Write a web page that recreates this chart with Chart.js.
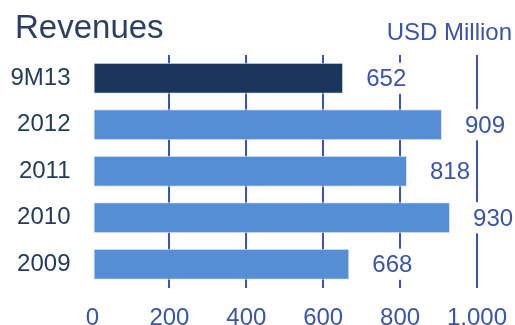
<!DOCTYPE html>
<html>
<head>
<meta charset="utf-8">
<script src="https://cdn.jsdelivr.net/npm/chart.js@4.4.1/dist/chart.umd.min.js"></script>
<style>
  body { margin: 0; background: #fff; }
  #wrap { width: 515px; height: 325px; }
</style>
</head>
<body>
<div id="wrap"><canvas id="chart" width="515" height="325"></canvas></div>
<script>
const periods = ['9M13', '2012', '2011', '2010', '2009'];
const revenues = [652, 909, 818, 930, 668];
const xTicks = [0, 200, 400, 600, 800, 1000];

const darkBar = '#1b365d';
const lightBar = '#558ed5';
const blueText = '#3a54a6';
const navyText = '#253b5c';
const fontFamily = '"Liberation Sans", Arial, sans-serif';

// headline + unit in the top band
const headerPlugin = {
  id: 'header',
  afterDraw(chart) {
    const ctx = chart.ctx;
    ctx.save();
    ctx.textBaseline = 'alphabetic';
    ctx.fillStyle = '#2b3f5e';
    ctx.font = '33px ' + fontFamily;
    ctx.textAlign = 'left';
    ctx.fillText('Revenues', 15, 37.5);
    ctx.fillStyle = blueText;
    ctx.font = '24px ' + fontFamily;
    ctx.textAlign = 'right';
    ctx.fillText('USD Million', 512, 40);
    ctx.restore();
  },
};

// value labels sit on a white box that cuts through the gridlines
const valueLabels = {
  id: 'valueLabels',
  afterDatasetsDraw(chart) {
    const ctx = chart.ctx;
    const meta = chart.getDatasetMeta(0);
    ctx.save();
    ctx.font = '24px ' + fontFamily;
    ctx.textAlign = 'left';
    ctx.textBaseline = 'middle';
    meta.data.forEach((bar, i) => {
      const text = String(revenues[i]);
      const w = ctx.measureText(text).width;
      const x = bar.x + 23;
      const h = bar.height;
      ctx.fillStyle = '#fff';
      ctx.fillRect(x - 2, bar.y - h / 2, w + 4, h);
      ctx.fillStyle = blueText;
      ctx.fillText(text, x, bar.y + 1.5);
    });
    ctx.restore();
  },
};

const ctx = document.querySelector('#chart').getContext('2d');

const revenueChart = new Chart(ctx, {
  type: 'bar',
  data: {
    labels: periods,
    datasets: [
      {
        data: revenues,
        backgroundColor: periods.map((p, i) => (i === 0 ? darkBar : lightBar)),
        borderColor: '#dfe6f4',
        borderWidth: 1,
        borderSkipped: false,
        barPercentage: 0.67,
        categoryPercentage: 1,
      },
    ],
  },
  options: {
    indexAxis: 'y',
    responsive: false,
    animation: false,
    layout: {
      padding: { top: 55, right: 38, left: 0, bottom: 0 },
    },
    plugins: {
      legend: { display: false },
      tooltip: { enabled: false },
    },
    scales: {
      x: {
        min: 0,
        max: 1000,
        afterBuildTicks: (scale) => {
          scale.ticks = xTicks.map((v) => ({ value: v }));
        },
        // fixed plot frame: no extra room for the end labels
        afterFit: (scale) => {
          scale.height = 37.5;
          scale.paddingLeft = 0;
          scale.paddingRight = 0;
        },
        border: { display: false },
        grid: {
          drawTicks: false,
          lineWidth: 2,
          color: (c) => (c.tick && c.tick.value === 0 ? 'rgba(0,0,0,0)' : '#3a56ae'),
        },
        ticks: {
          padding: 16,
          maxRotation: 0,
          color: blueText,
          font: { family: fontFamily, size: 24 },
          callback: (v) => v.toLocaleString('en-US'),
        },
      },
      y: {
        afterFit: (scale) => {
          scale.width = 92.5;
          scale.paddingTop = 0;
          scale.paddingBottom = 0;
        },
        border: { display: false },
        grid: { display: false, drawTicks: false },
        ticks: {
          padding: 22,
          color: navyText,
          font: { family: fontFamily, size: 24 },
        },
      },
    },
  },
  plugins: [headerPlugin, valueLabels],
});
</script>
</body>
</html>
